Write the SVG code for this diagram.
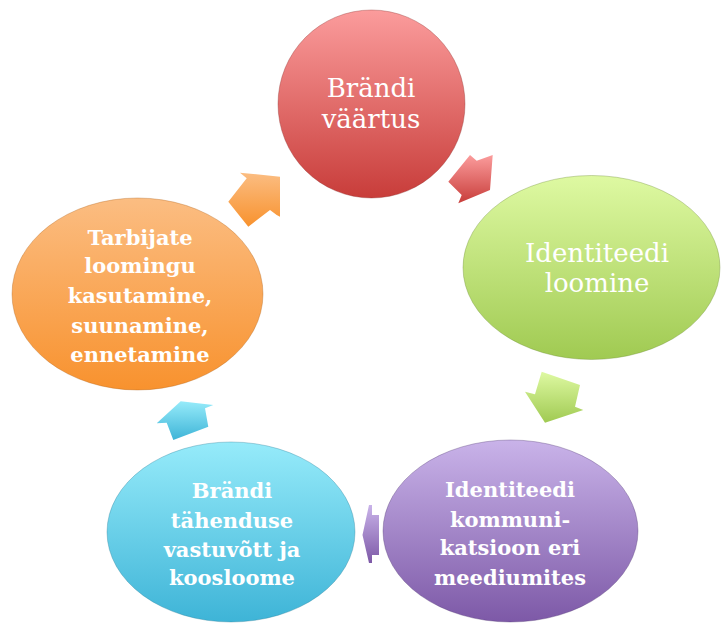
<svg xmlns="http://www.w3.org/2000/svg" width="722" height="623" viewBox="0 0 722 623">
<defs>
<linearGradient id="gRed" x1="0" y1="0" x2="0" y2="1"><stop offset="0" stop-color="#fb9c9c"/><stop offset="1" stop-color="#c83d3a"/></linearGradient>
<linearGradient id="gGreen" x1="0" y1="0" x2="0" y2="1"><stop offset="0" stop-color="#def9a2"/><stop offset="1" stop-color="#a0ca52"/></linearGradient>
<linearGradient id="gPurple" x1="0" y1="0" x2="0" y2="1"><stop offset="0" stop-color="#c9b3e9"/><stop offset="1" stop-color="#7d59a7"/></linearGradient>
<linearGradient id="gCyan" x1="0" y1="0" x2="0" y2="1"><stop offset="0" stop-color="#96ebfa"/><stop offset="1" stop-color="#3eb4d7"/></linearGradient>
<linearGradient id="gOrange" x1="0" y1="0" x2="0" y2="1"><stop offset="0" stop-color="#fbbd82"/><stop offset="1" stop-color="#f8922e"/></linearGradient>
</defs>
<style>
.t{font-family:"DejaVu Serif","Liberation Serif",serif;fill:#ffffff;text-anchor:middle}
.r{font-size:26px}
.b{font-size:21px;font-weight:bold}
.edge{stroke-width:1;stroke-opacity:0.35}
</style>
<rect width="722" height="623" fill="#ffffff"/>
<g id="connectors">
<polygon points="470,155 476.7,160.7 492.7,155 490,190 458.3,203.3 461.7,195 448.3,181.7" fill="url(#gRed)"/>
<polygon points="541.7,371.7 580,385 575,406.7 583.3,410 545,422.7 525,391.7 535,394.3" fill="url(#gGreen)"/>
<polygon points="362.5,535 369,505 372,505 372,515 379,515 379,555 372,555 372,563 369,563" fill="url(#gPurple)"/>
<polygon points="180.7,401.3 213.3,405 205,408.3 208.3,426.7 173.3,440 166.7,422.7 156.7,423.3" fill="url(#gCyan)"/>
<polygon points="240,172.7 280,176.7 280,216.7 276.7,215 270,210 248.3,226.7 228.3,201.7 246.7,178.3" fill="url(#gOrange)"/>
</g>
<g id="node-brandi-vaartus">
<ellipse cx="371.5" cy="104" rx="93.5" ry="94" fill="url(#gRed)" stroke="#8a2a28" class="edge"/>
<text class="t r" x="371" y="97">Brändi</text>
<text class="t r" x="371" y="128">väärtus</text>
</g>
<g id="node-identiteedi-loomine">
<ellipse cx="591.5" cy="267.5" rx="128.5" ry="92" fill="url(#gGreen)" stroke="#6a8a30" class="edge"/>
<text class="t r" x="597" y="262">Identiteedi</text>
<text class="t r" x="597" y="292">loomine</text>
</g>
<g id="node-kommunikatsioon">
<ellipse cx="510.5" cy="531" rx="127.5" ry="91" fill="url(#gPurple)" stroke="#4e3570" class="edge"/>
<text class="t b" x="510" y="497">Identiteedi</text>
<text class="t b" x="510" y="527">kommuni-</text>
<text class="t b" x="510" y="555">katsioon eri</text>
<text class="t b" x="510" y="585">meediumites</text>
</g>
<g id="node-tahenduse-vastuvott">
<ellipse cx="231" cy="532" rx="124" ry="90" fill="url(#gCyan)" stroke="#2a7e98" class="edge"/>
<text class="t b" x="232" y="498">Brändi</text>
<text class="t b" x="232" y="528">tähenduse</text>
<text class="t b" x="232" y="557">vastuvõtt ja</text>
<text class="t b" x="232" y="585">koosloome</text>
</g>
<g id="node-tarbijate-looming">
<ellipse cx="137.5" cy="294" rx="125.5" ry="96" fill="url(#gOrange)" stroke="#b0621a" class="edge"/>
<text class="t b" x="140" y="245">Tarbijate</text>
<text class="t b" x="140" y="273">loomingu</text>
<text class="t b" x="140" y="303">kasutamine,</text>
<text class="t b" x="140" y="333">suunamine,</text>
<text class="t b" x="140" y="362">ennetamine</text>
</g>
</svg>
